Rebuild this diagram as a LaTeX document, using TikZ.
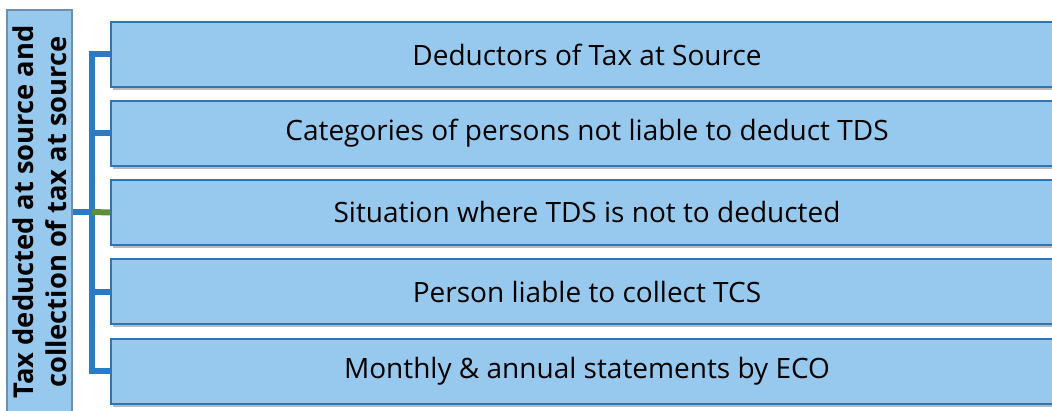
\documentclass[tikz,border=0pt]{standalone}
\usepackage{fontspec}
\setmainfont{Open Sans}
\usetikzlibrary{shadows}
\definecolor{boxfill}{HTML}{97C9EE}
\definecolor{boxline}{HTML}{2E75B6}
\definecolor{titleline}{HTML}{6F8FAF}
\definecolor{connblue}{HTML}{2A7BC6}
\definecolor{conngreen}{HTML}{5E8E3A}
\tikzset{
  itembox/.style={draw=boxline, line width=2pt, fill=boxfill, minimum width=952pt, minimum height=65pt,
    inner sep=0pt, font=\fontsize{28}{33}\selectfont,
    drop shadow={shadow xshift=1.5pt, shadow yshift=-3pt, opacity=0.45, fill=black!60}},
  titlebox/.style={draw=titleline, line width=1.5pt, fill=boxfill, minimum width=404pt, minimum height=65pt,
    inner sep=0pt, rotate=90, align=center, font=\fontsize{27.3}{33}\bfseries\selectfont},
  conn/.style={draw=connblue, line width=6pt},
  conng/.style={draw=conngreen, line width=6pt}
}
\begin{document}
\begin{tikzpicture}[x=1pt,y=1pt]
\useasboundingbox (0,0) rectangle (1052,411);
\coordinate (j) at (92,199);
\node[titlebox] (title) at (39.5,199) {Tax deducted at source and\\collection of tax at source};
\draw[conn] (title.south) -- (j);
\draw[conn, line cap=rect] (92,356.5) -- (j) -- (92,39.5);
\node[itembox] (b1) at (587,356.5) {Deductors of Tax at Source};
\node[itembox] (b2) at (587,277.5) {Categories of persons not liable to deduct TDS};
\node[itembox] (b3) at (587,198.5) {Situation where TDS is not to deducted};
\node[itembox] (b4) at (587,119) {Person liable to collect TCS};
\node[itembox] (b5) at (587,39.5) {Monthly \& annual statements by ECO};
\draw[conn] (b1.west) -- (b1.west -| j);
\draw[conn] (b2.west) -- (b2.west -| j);
\draw[conn] (b4.west) -- (b4.west -| j);
\draw[conn] (b5.west) -- (b5.west -| j);
\draw[conng] (j) -- (b3.west);
\end{tikzpicture}
\end{document}
